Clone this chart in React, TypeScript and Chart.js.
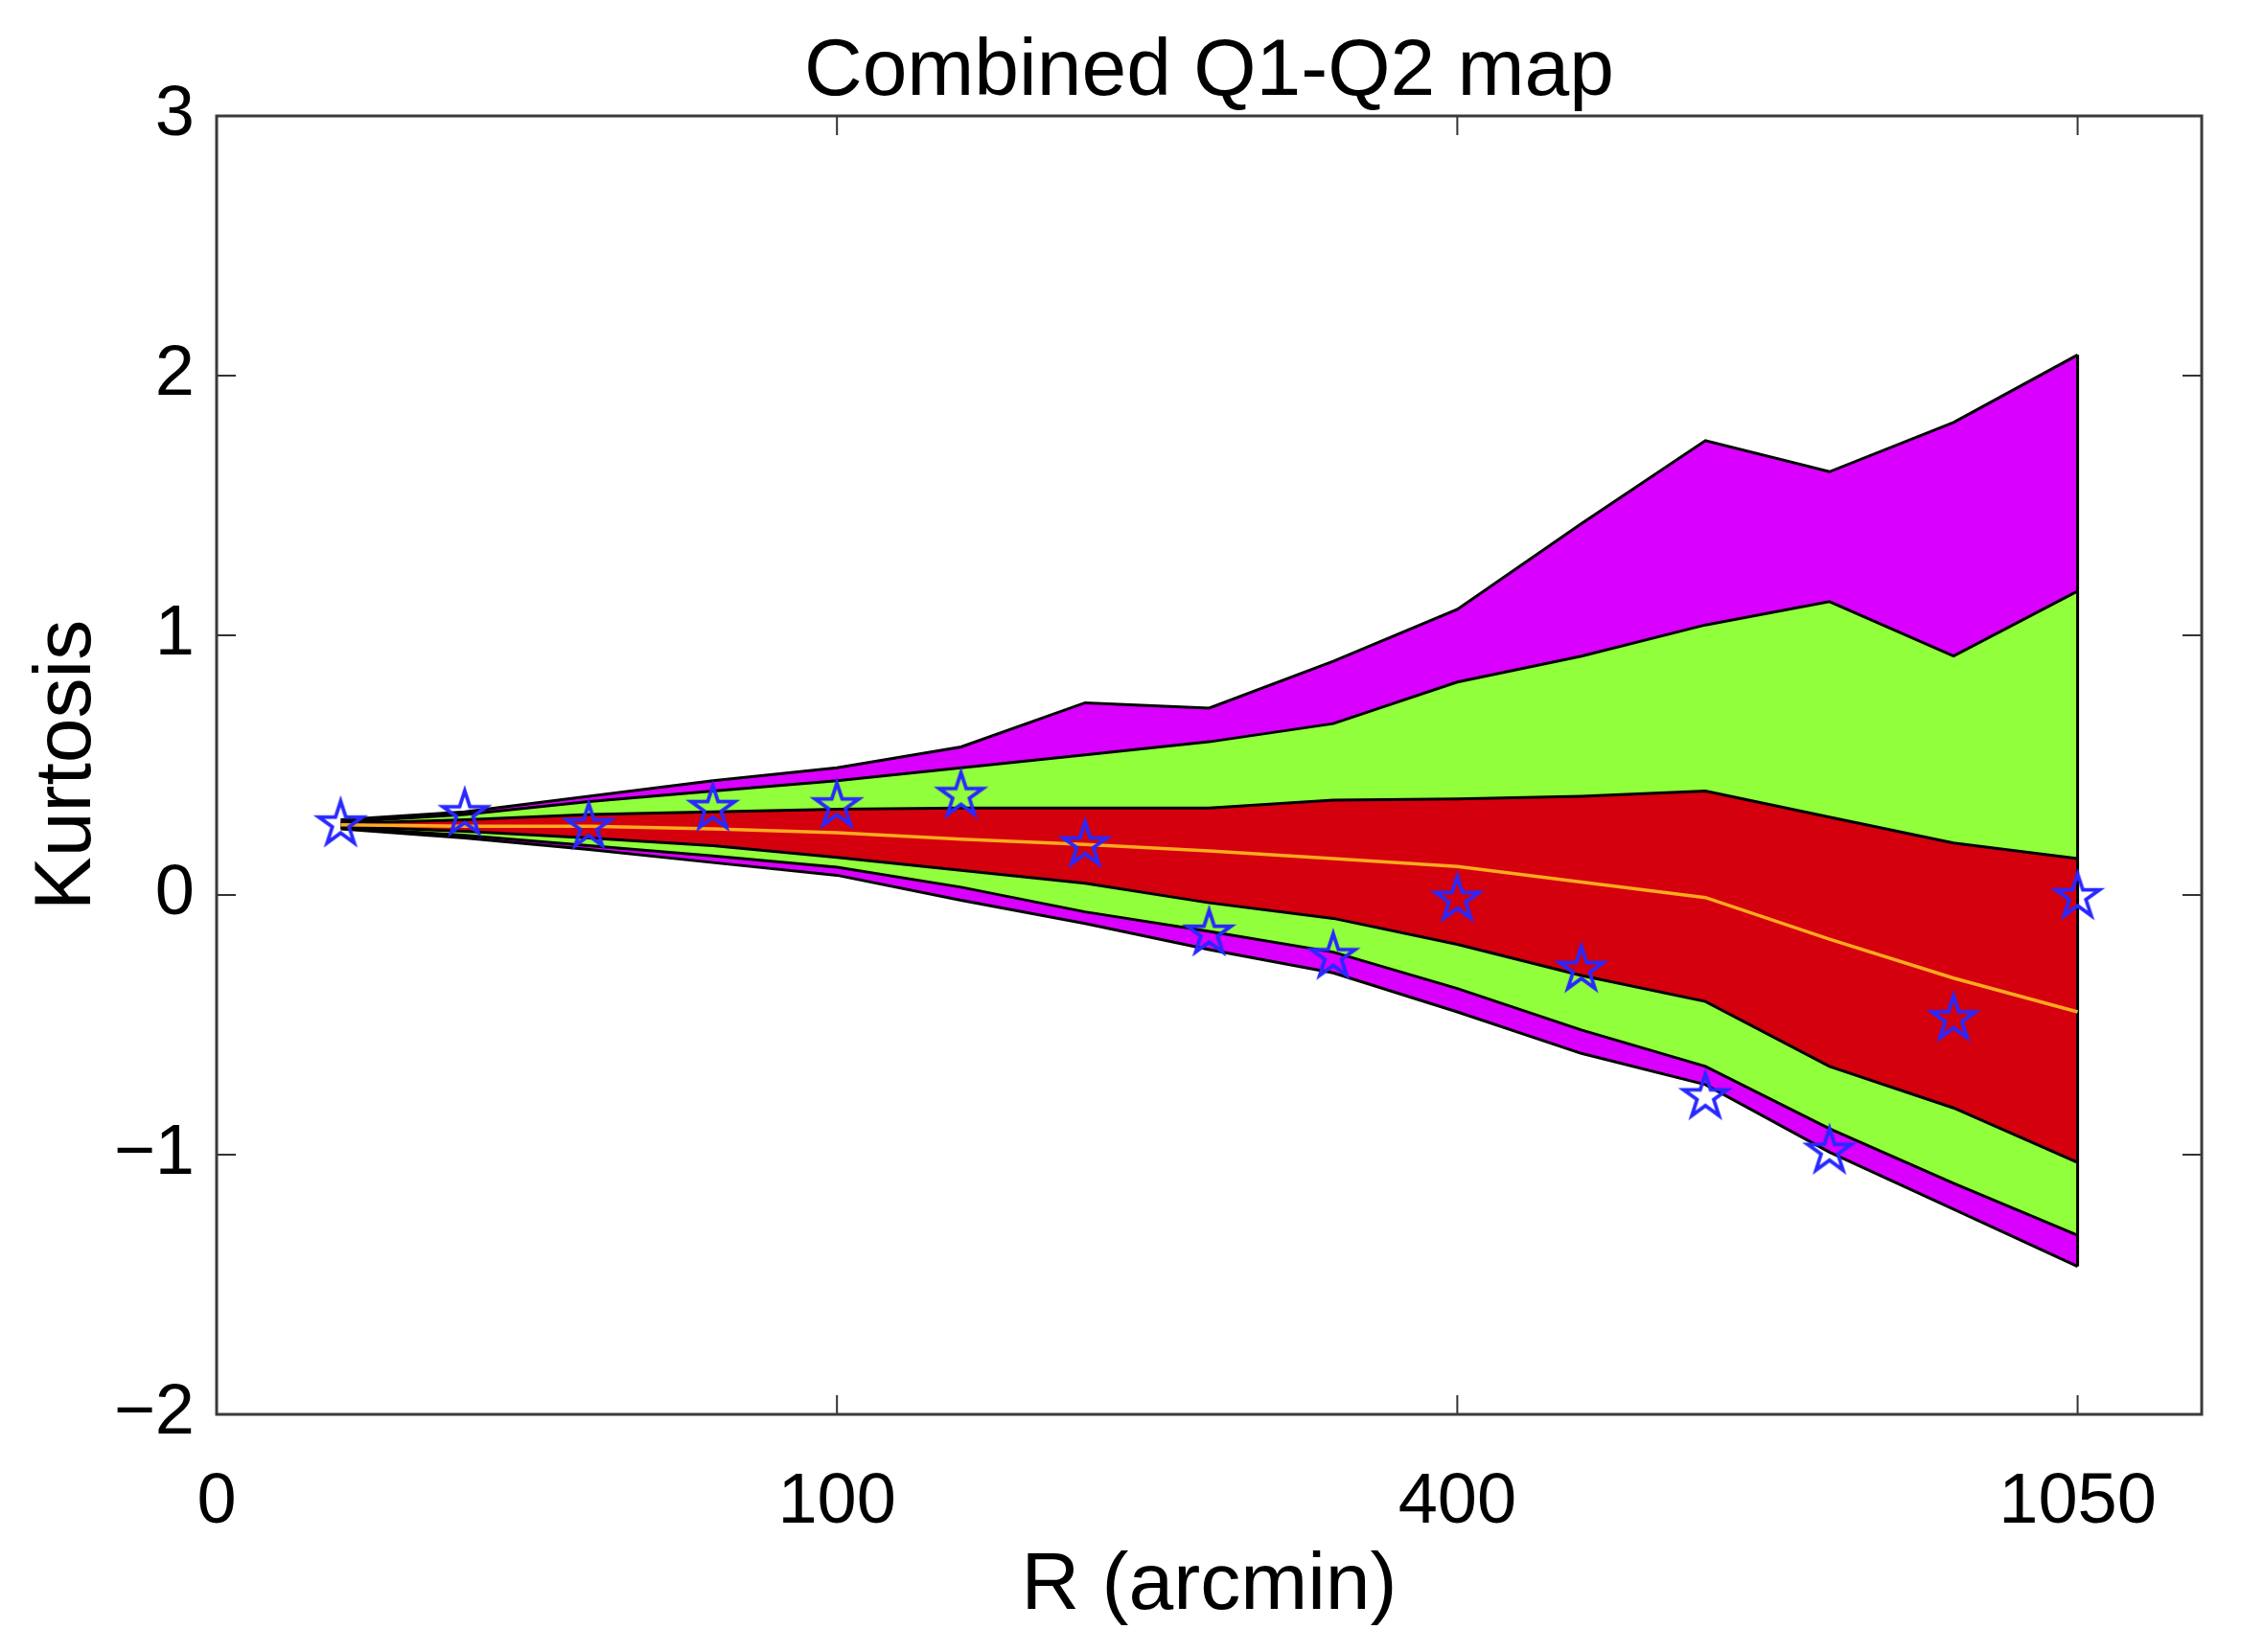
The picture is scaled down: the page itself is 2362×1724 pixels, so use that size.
import React, { useEffect, useRef } from "react";
import { Chart, registerables } from "chart.js";

Chart.register(...registerables);

// Radial bins (plotted at equal spacing, index 1..15)
const binIndex = [1, 2, 3, 4, 5, 6, 7, 8, 9, 10, 11, 12, 13, 14, 15];
const xTickPositions = [0, 5, 10, 15];
const xTickLabels = ["0", "100", "400", "1050"];
const chartTitle = "Combined Q1-Q2 map";

// Band boundaries (outer = magenta, middle = green, inner = red)
const magentaUpper = [0.29, 0.32, 0.38, 0.44, 0.49, 0.57, 0.74, 0.72, 0.9, 1.1, 1.43, 1.75, 1.63, 1.82, 2.08];
const greenUpper = [0.28, 0.31, 0.36, 0.4, 0.44, 0.49, 0.54, 0.59, 0.66, 0.82, 0.92, 1.04, 1.13, 0.92, 1.17];
const redUpper = [0.275, 0.29, 0.31, 0.32, 0.33, 0.335, 0.335, 0.335, 0.365, 0.37, 0.38, 0.4, 0.3, 0.2, 0.14];
const medianLine = [0.27, 0.265, 0.265, 0.255, 0.24, 0.215, 0.195, 0.17, 0.14, 0.11, 0.05, -0.01, -0.17, -0.32, -0.45];
const redLower = [0.265, 0.245, 0.22, 0.19, 0.145, 0.095, 0.045, -0.03, -0.09, -0.19, -0.31, -0.41, -0.66, -0.82, -1.03];
const greenLower = [0.26, 0.23, 0.19, 0.15, 0.107, 0.03, -0.065, -0.14, -0.22, -0.36, -0.52, -0.66, -0.9, -1.11, -1.31];
const magentaLower = [0.255, 0.22, 0.175, 0.125, 0.076, -0.02, -0.11, -0.21, -0.3, -0.45, -0.61, -0.73, -0.99, -1.21, -1.43];

// Measured kurtosis (stars)
const measured = [0.28, 0.32, 0.27, 0.34, 0.35, 0.39, 0.2, -0.14, -0.23, -0.01, -0.28, -0.77, -0.98, -0.47, 0.0];

const FONT = "'Liberation Sans', Arial, Helvetica, sans-serif";
const MAGENTA = "rgb(218,0,255)";
const GREEN = "rgb(145,255,60)";
const RED = "rgb(212,0,14)";

function toPts(vals: number[]) {
  return vals.map((y, i) => ({ x: binIndex[i], y }));
}

function makeStar(): HTMLCanvasElement {
  const c = document.createElement("canvas");
  const s = 58;
  c.width = s;
  c.height = s;
  const g = c.getContext("2d")!;
  const cx = s / 2;
  const cy = s / 2 + 2;
  const R = 24;
  const r = R * 0.382;
  g.beginPath();
  for (let k = 0; k < 10; k++) {
    const rad = k % 2 === 0 ? R : r;
    const ang = -Math.PI / 2 + (k * Math.PI) / 5;
    const px = cx + rad * Math.cos(ang);
    const py = cy + rad * Math.sin(ang);
    if (k === 0) g.moveTo(px, py);
    else g.lineTo(px, py);
  }
  g.closePath();
  g.strokeStyle = "rgb(40,40,255)";
  g.lineWidth = 3.8;
  g.lineJoin = "miter";
  g.stroke();
  return c;
}

const framePlugin = {
  id: "frame",
  afterDraw(chart: any) {
    const { ctx, chartArea: a, scales } = chart;
    const x = scales.x;
    const y = scales.y;
    const tl = 20;
    ctx.save();
    ctx.strokeStyle = "#333";
    ctx.lineWidth = 2;
    ctx.beginPath();
    xTickPositions.forEach((v) => {
      const px = x.getPixelForValue(v);
      ctx.moveTo(px, a.bottom);
      ctx.lineTo(px, a.bottom - tl);
      ctx.moveTo(px, a.top);
      ctx.lineTo(px, a.top + tl);
    });
    y.ticks.forEach((t: any) => {
      const py = y.getPixelForValue(t.value);
      ctx.moveTo(a.left, py);
      ctx.lineTo(a.left + tl, py);
      ctx.moveTo(a.right, py);
      ctx.lineTo(a.right - tl, py);
    });
    ctx.stroke();
    ctx.strokeStyle = "#3a3a3a";
    ctx.lineWidth = 3;
    ctx.strokeRect(a.left, a.top, a.right - a.left, a.bottom - a.top);
    // title centred over the plot area
    ctx.fillStyle = "#000";
    ctx.font = `84px ${FONT}`;
    ctx.textAlign = "center";
    ctx.textBaseline = "alphabetic";
    ctx.fillText(chartTitle, (a.left + a.right) / 2, 99);
    ctx.restore();
  },
};

export default function App() {
  const ref = useRef<HTMLCanvasElement | null>(null);

  useEffect(() => {
    document.body.style.margin = "0";
    const star = makeStar();
    const edge = (color: string) => ({
      borderColor: "#000",
      borderWidth: 3,
      pointRadius: 0,
      tension: 0,
      order: 3,
      backgroundColor: color,
    });
    const chart = new Chart(ref.current!, {
      type: "line",
      data: {
        datasets: [
          { ...edge(MAGENTA), data: toPts(magentaUpper), fill: "+1" },
          { ...edge(GREEN), data: toPts(greenUpper), fill: "+1" },
          { ...edge(RED), data: toPts(redUpper), fill: "+1" },
          { ...edge(GREEN), data: toPts(redLower), fill: "+1" },
          { ...edge(MAGENTA), data: toPts(greenLower), fill: "+1" },
          { ...edge("transparent"), data: toPts(magentaLower), fill: false },
          {
            ...edge("transparent"),
            data: [
              { x: binIndex[binIndex.length - 1], y: magentaLower[magentaLower.length - 1] },
              { x: binIndex[binIndex.length - 1], y: magentaUpper[magentaUpper.length - 1] },
            ],
            fill: false,
          },
          {
            data: toPts(medianLine),
            borderColor: "rgb(255,170,30)",
            borderWidth: 3.5,
            pointRadius: 0,
            tension: 0,
            fill: false,
            order: 2,
          },
          {
            data: toPts(measured),
            showLine: false,
            pointStyle: star as any,
            pointRadius: 12,
            borderColor: "rgb(40,40,255)",
            backgroundColor: "rgb(40,40,255)",
            fill: false,
            order: 1,
          },
        ],
      },
      options: {
        responsive: false,
        animation: false,
        devicePixelRatio: 1,
        events: [],
        layout: { padding: { left: 0, right: 65, top: 121, bottom: 0 } },
        plugins: {
          legend: { display: false },
          tooltip: { enabled: false },
          title: { display: false },
          filler: { drawTime: "beforeDatasetsDraw", propagate: false },
        },
        scales: {
          x: {
            type: "linear",
            min: 0,
            max: 16,
            grid: { display: false, drawTicks: false, tickLength: 0 },
            border: { display: false },
            afterBuildTicks: (axis: any) => {
              axis.ticks = xTickPositions.map((v) => ({ value: v }));
            },
            afterFit: (axis: any) => {
              axis.height = 248;
            },
            ticks: {
              autoSkip: false,
              maxRotation: 0,
              padding: 48,
              color: "#000",
              font: { family: FONT, size: 74, lineHeight: 1.2 },
              callback: (v: any) => {
                const k = xTickPositions.indexOf(Number(v));
                return k >= 0 ? xTickLabels[k] : "";
              },
            },
            title: {
              display: true,
              text: "R (arcmin)",
              color: "#000",
              font: { family: FONT, size: 84, lineHeight: 1 },
              padding: { top: 0, bottom: 26 },
            },
          },
          y: {
            min: -2,
            max: 3,
            grid: { display: false, drawTicks: false, tickLength: 0 },
            border: { display: false },
            afterFit: (axis: any) => {
              axis.width = 226;
            },
            ticks: {
              stepSize: 1,
              padding: 23,
              color: "#000",
              font: { family: FONT, size: 74, lineHeight: 1.2 },
              callback: (v: any) => {
                const n = Number(v);
                return n < 0 ? "\u2212" + Math.abs(n) : String(n);
              },
            },
            title: {
              display: true,
              text: "Kurtosis",
              color: "#000",
              font: { family: FONT, size: 84, lineHeight: 1 },
              padding: { top: 29, bottom: 0 },
            },
          },
        },
      },
      plugins: [framePlugin],
    } as any);
    return () => chart.destroy();
  }, []);

  return (
    <div style={{ position: "absolute", left: 0, top: 0, width: 2362, height: 1724, background: "#fff" }}>
      <canvas ref={ref} width={2362} height={1724} style={{ width: 2362, height: 1724, display: "block" }} />
    </div>
  );
}
